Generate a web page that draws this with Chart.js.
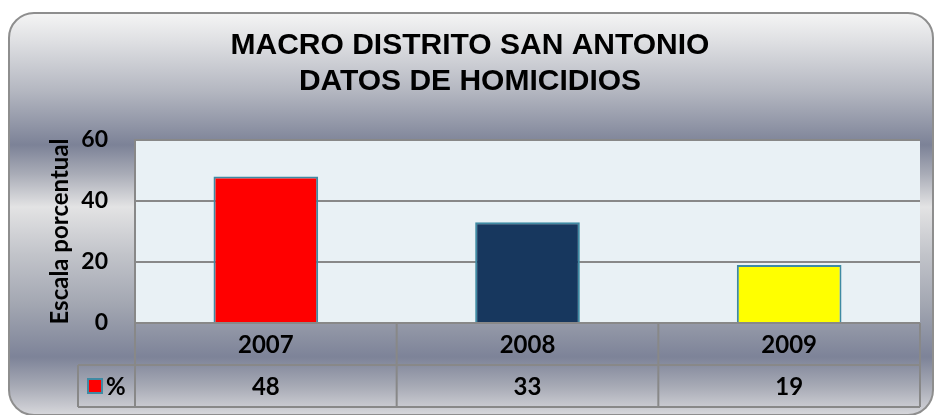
<!DOCTYPE html>
<html>
<head>
<meta charset="utf-8">
<script src="https://cdn.jsdelivr.net/npm/chart.js@4.4.1/dist/chart.umd.min.js"></script>
<style>
  body { margin: 0; background: #fff; overflow: hidden; }
  #wrap { position: relative; width: 936px; height: 415px; }
  #frame {
    position: absolute; left: 8px; top: 12px; width: 926px; height: 404px;
    box-sizing: border-box; border: 2px solid #8e8e8e; border-radius: 26px;
    background: linear-gradient(to bottom, #f4f4f4 0px, #dedfe2 28px, #b3b6c0 78px, #7c8297 131px,
      #a9acb7 160px, #e3e3e4 193px, #c2c4ca 240px, #a3a7b2 290px, #7d8398 343px, #a8abb6 373px, #d9d9dd 402px);
  }
  #chart { position: absolute; left: 0; top: 0; }
</style>
</head>
<body>
<div id="wrap">
  <div id="frame"></div>
  <canvas id="chart" width="936" height="415"></canvas>
</div>
<script>
// datos del grafico
const years = ['2007', '2008', '2009'];
const percent = [48, 33, 19];
const seriesName = '%';
const barColors = ['#ff0000', '#17375e', '#ffff00'];
const yTicks = [0, 20, 40, 60];

const plotBg = '#e9f1f5';
const lineGray = '#888888';
const barEdge = '#3f8aa3';

// fondo del area de trazado + tabla de datos bajo el eje
const dataTable = {
  id: 'dataTable',
  beforeDraw(chart) {
    const a = chart.chartArea, ctx = chart.ctx;
    ctx.save();
    ctx.fillStyle = plotBg;
    ctx.fillRect(a.left, a.top, a.right - a.left, a.bottom - a.top);
    ctx.restore();
  },
  afterDraw(chart) {
    const a = chart.chartArea, ctx = chart.ctx, x = chart.scales.x;
    const half = (x.getPixelForValue(1) - x.getPixelForValue(0)) / 2;
    const r1 = a.bottom, r2 = a.bottom + 42, r3 = a.bottom + 84;
    const keyLeft = 78;

    ctx.save();
    ctx.strokeStyle = lineGray;
    ctx.lineWidth = 2;
    ctx.beginPath();
    ctx.moveTo(a.left, r1); ctx.lineTo(a.right, r1);
    ctx.moveTo(keyLeft, r2); ctx.lineTo(a.right, r2);
    ctx.moveTo(keyLeft, r3); ctx.lineTo(a.right, r3);
    ctx.moveTo(keyLeft, r2); ctx.lineTo(keyLeft, r3);
    ctx.moveTo(a.left, r1); ctx.lineTo(a.left, r3);
    years.forEach((y, i) => {
      const xr = x.getPixelForValue(i) + half;
      ctx.moveTo(xr, r1); ctx.lineTo(xr, r3);
    });
    ctx.stroke();

    ctx.fillStyle = '#000';
    ctx.font = 'bold 24px Lato';
    ctx.textAlign = 'center';
    ctx.textBaseline = 'middle';
    years.forEach((y, i) => {
      const cx = x.getPixelForValue(i);
      ctx.fillText(y, cx, (r1 + r2) / 2 + 1);
      ctx.fillText(String(percent[i]), cx, (r2 + r3) / 2 + 1);
    });

    // clave de leyenda
    const my = (r2 + r3) / 2;
    ctx.fillStyle = barColors[0];
    ctx.fillRect(88, my - 7, 14, 14);
    ctx.strokeStyle = barEdge;
    ctx.strokeRect(88, my - 7, 14, 14);
    ctx.fillStyle = '#000';
    ctx.textAlign = 'left';
    ctx.fillText(seriesName, 106, my + 1);
    ctx.restore();
  }
};

new Chart(document.getElementById('chart'), {
  type: 'bar',
  data: {
    labels: years,
    datasets: [{
      label: seriesName,
      data: percent,
      backgroundColor: barColors,
      borderColor: barEdge,
      borderWidth: 2,
      categoryPercentage: 1,
      barPercentage: 0.4
    }]
  },
  options: {
    responsive: false,
    animation: false,
    layout: { padding: { left: 20, right: 16, top: 0, bottom: 92 } },
    plugins: {
      legend: { display: false },
      tooltip: { enabled: false },
      title: {
        display: true,
        text: ['MACRO DISTRITO SAN ANTONIO', 'DATOS DE HOMICIDIOS'],
        color: '#000',
        font: { family: 'Liberation Sans', size: 30, weight: 'bold', lineHeight: 1.2 },
        padding: { top: 28, bottom: 40 }
      }
    },
    scales: {
      x: { display: false },
      y: {
        min: yTicks[0],
        max: yTicks[yTicks.length - 1],
        afterFit(scale) { scale.width = 115; },
        afterBuildTicks(scale) { scale.ticks = yTicks.map(v => ({ value: v })); },
        ticks: {
          color: '#000',
          font: { family: 'Lato', size: 23, weight: 'bold' },
          padding: 27
        },
        grid: { color: lineGray, lineWidth: 2, drawTicks: false },
        border: { color: lineGray, width: 2 },
        title: {
          display: true,
          text: 'Escala porcentual',
          color: '#000',
          font: { family: 'Lato', size: 24, weight: 'bold' },
          padding: { top: 26, bottom: 0 }
        }
      }
    }
  },
  plugins: [dataTable]
});
</script>
</body>
</html>
